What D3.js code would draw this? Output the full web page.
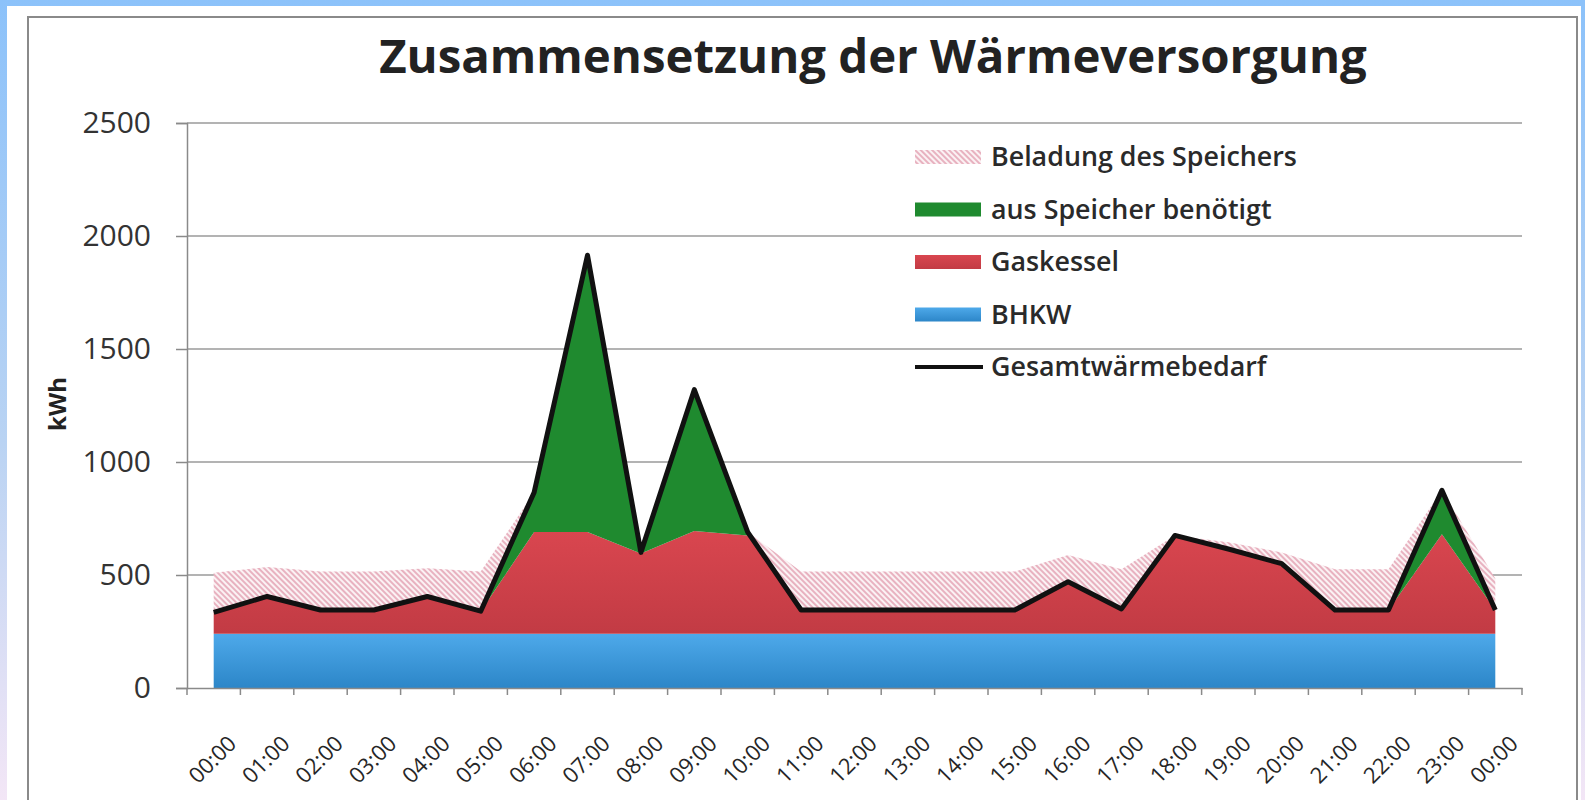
<!DOCTYPE html>
<meta charset="utf-8" />
<script src="https://d3js.org/d3.v7.min.js"></script>
<style>
	body { margin: 0; }
	svg { display: block; font-family: "Open Sans", sans-serif; }
</style>
<div id="chart"></div>
<script>
	// values (kWh per hour)
	const hours = ["00:00", "01:00", "02:00", "03:00", "04:00", "05:00", "06:00", "07:00", "08:00",
		"09:00", "10:00", "11:00", "12:00", "13:00", "14:00", "15:00", "16:00", "17:00", "18:00",
		"19:00", "20:00", "21:00", "22:00", "23:00", "00:00"];
	const bhkw = [240, 240, 240, 240, 240, 240, 240, 240, 240, 240, 240, 240, 240,
		240, 240, 240, 240, 240, 240, 240, 240, 240, 240, 240, 240];
	const gaskessel = [95, 165, 105, 105, 165, 100, 450, 450, 355, 455, 435, 105, 105,
		105, 105, 105, 230, 110, 435, 375, 310, 105, 105, 440, 105];
	const ausSpeicher = [0, 0, 0, 0, 0, 0, 175, 1225, 5, 625, 15, 0, 0,
		0, 0, 0, 0, 0, 0, 0, 0, 0, 0, 195, 0];
	const beladung = [175, 130, 170, 170, 125, 175, 0, 0, 0, 0, 0, 170, 170,
		170, 170, 170, 118, 175, 0, 30, 50, 180, 180, 0, 140];
	const gesamt = [335, 405, 345, 345, 405, 340, 865, 1915, 600, 1320, 690, 345, 345,
		345, 345, 345, 470, 350, 675, 615, 550, 345, 345, 875, 345];
	const yTicks = [0, 500, 1000, 1500, 2000, 2500];

	const W = 1585, H = 800;
	const plot = { left: 187, right: 1522, top: 123, bottom: 688 };

	const svg = d3.select("#chart").append("svg")
		.attr("width", W)
		.attr("height", H);

	const defs = svg.append("defs");

	const bg = defs.append("linearGradient").attr("id", "bg")
		.attr("x1", 0).attr("y1", 0).attr("x2", 0).attr("y2", 1);
	bg.append("stop").attr("offset", "0%").attr("stop-color", "#8cc2fa");
	bg.append("stop").attr("offset", "55%").attr("stop-color", "#b9d3f3");
	bg.append("stop").attr("offset", "100%").attr("stop-color", "#f3e6f6");

	const blue = defs.append("linearGradient").attr("id", "blue")
		.attr("x1", 0).attr("y1", 0).attr("x2", 0).attr("y2", 1);
	blue.append("stop").attr("offset", "0%").attr("stop-color", "#4ea9ea");
	blue.append("stop").attr("offset", "100%").attr("stop-color", "#2c86c8");

	const red = defs.append("linearGradient").attr("id", "red")
		.attr("x1", 0).attr("y1", 0).attr("x2", 0).attr("y2", 1);
	red.append("stop").attr("offset", "0%").attr("stop-color", "#d9464f");
	red.append("stop").attr("offset", "100%").attr("stop-color", "#c23b44");

	const hatch = defs.append("pattern").attr("id", "hatch")
		.attr("patternUnits", "userSpaceOnUse")
		.attr("width", 4).attr("height", 4)
		.attr("patternTransform", "rotate(-45)");
	hatch.append("rect").attr("width", 4).attr("height", 4).attr("fill", "#fbf2f4");
	hatch.append("line").attr("x1", 1).attr("y1", 0).attr("x2", 1).attr("y2", 4)
		.attr("stroke", "#e29daf").attr("stroke-width", 1.5);

	// page background + chart frame
	svg.append("rect").attr("width", W).attr("height", H).attr("fill", "url(#bg)");
	svg.append("rect").attr("x", 7).attr("y", 6).attr("width", 1574).attr("height", H)
		.attr("fill", "#fff");
	svg.append("rect").attr("x", 28).attr("y", 17).attr("width", 1549).attr("height", 800)
		.attr("fill", "none").attr("stroke", "#8a8a8a").attr("stroke-width", 2);

	const x = d3.scaleBand().domain(d3.range(hours.length)).range([plot.left, plot.right]);
	const xc = i => x(i) + x.bandwidth() / 2;
	const y = d3.scaleLinear().domain([0, 2500]).range([plot.bottom, plot.top]);

	// gridlines
	svg.append("g").selectAll("line").data(yTicks.slice(1)).join("line")
		.attr("x1", plot.left).attr("x2", plot.right)
		.attr("y1", d => y(d)).attr("y2", d => y(d))
		.attr("stroke", "#9a9a9a").attr("stroke-width", 1.5);

	// stacked areas
	const rows = hours.map((h, i) => ({
		bhkw: bhkw[i], gas: gaskessel[i], speicher: ausSpeicher[i], beladung: beladung[i]
	}));
	const keys = ["bhkw", "gas", "speicher", "beladung"];
	const fills = { bhkw: "url(#blue)", gas: "url(#red)", speicher: "#1f8a2f", beladung: "url(#hatch)" };
	const series = d3.stack().keys(keys)(rows);

	const area = d3.area()
		.x((d, i) => xc(i))
		.y0(d => y(d[0]))
		.y1(d => y(d[1]));

	svg.append("g").selectAll("path").data(series).join("path")
		.attr("d", area)
		.attr("fill", d => fills[d.key]);

	// total demand line
	svg.append("path")
		.datum(gesamt)
		.attr("d", d3.line().x((d, i) => xc(i)).y(d => y(d)))
		.attr("fill", "none")
		.attr("stroke", "#111")
		.attr("stroke-width", 5)
		.attr("stroke-linejoin", "round");

	// y axis
	const yAxis = svg.append("g")
		.attr("transform", "translate(" + plot.left + ",0)")
		.call(d3.axisLeft(y).tickValues(yTicks).tickFormat(d3.format("d")).tickSize(11).tickPadding(25));
	yAxis.select(".domain").attr("stroke", "#8a8a8a").attr("stroke-width", 1.5);
	yAxis.selectAll(".tick line").attr("stroke", "#8a8a8a").attr("stroke-width", 1.5);
	yAxis.selectAll("text").attr("font-size", 30).attr("fill", "#333")
		.attr("font-family", "Open Sans");

	// x axis
	const xAxis = svg.append("g")
		.attr("transform", "translate(0," + plot.bottom + ")")
		.call(d3.axisBottom(x).tickSize(0).tickFormat(i => hours[i]));
	xAxis.select(".domain").attr("stroke", "#8a8a8a").attr("stroke-width", 1.5);
	xAxis.selectAll("text")
		.attr("font-size", 22).attr("fill", "#262626").attr("font-family", "Open Sans")
		.attr("x", 0).attr("y", 0).attr("dy", 0)
		.attr("text-anchor", "end")
		.attr("transform", "translate(24,57) rotate(-45)");
	// tick marks sit between categories
	xAxis.append("g").selectAll("line").data(d3.range(hours.length + 1)).join("line")
		.attr("x1", i => i < hours.length ? x(i) : plot.right)
		.attr("x2", i => i < hours.length ? x(i) : plot.right)
		.attr("y1", 0).attr("y2", 7)
		.attr("stroke", "#8a8a8a").attr("stroke-width", 1.5);

	// y label
	svg.append("text")
		.attr("transform", "translate(66,404) rotate(-90)")
		.attr("text-anchor", "middle")
		.attr("font-size", 24).attr("font-weight", "bold").attr("fill", "#222")
		.text("kWh");

	// title, sized to the reference width
	const title = svg.append("text")
		.attr("x", 873).attr("y", 73)
		.attr("text-anchor", "middle")
		.attr("font-size", 42).attr("font-weight", "bold").attr("fill", "#222")
		.text("Zusammensetzung der Wärmeversorgung");
	const tw = title.node().getComputedTextLength();
	title.attr("font-size", 42 * 988 / tw);

	// legend
	const legendItems = [
		{ name: "Beladung des Speichers", fill: "url(#hatch)" },
		{ name: "aus Speicher benötigt", fill: "#1f8a2f" },
		{ name: "Gaskessel", fill: "url(#red)" },
		{ name: "BHKW", fill: "url(#blue)" },
		{ name: "Gesamtwärmebedarf", line: true }
	];
	const legend = svg.append("g").selectAll("g").data(legendItems).join("g")
		.attr("transform", (d, i) => "translate(915," + (157 + i * 52.5) + ")");
	legend.filter(d => !d.line).append("rect")
		.attr("x", 0).attr("y", -7).attr("width", 66).attr("height", 14)
		.attr("fill", d => d.fill);
	legend.filter(d => d.line).append("line")
		.attr("x1", 0).attr("x2", 68).attr("y1", 0).attr("y2", 0)
		.attr("stroke", "#111").attr("stroke-width", 4);
	const legendText = legend.append("text")
		.attr("x", 76).attr("y", 0).attr("dy", "0.35em")
		.attr("font-size", 25).attr("font-weight", 600).attr("fill", "#2a2a2a")
		.text(d => d.name);
	// match the width of the first entry in the reference
	const lw = legendText.node().getComputedTextLength();
	legendText.attr("font-size", 25 * 306 / lw);
</script>
